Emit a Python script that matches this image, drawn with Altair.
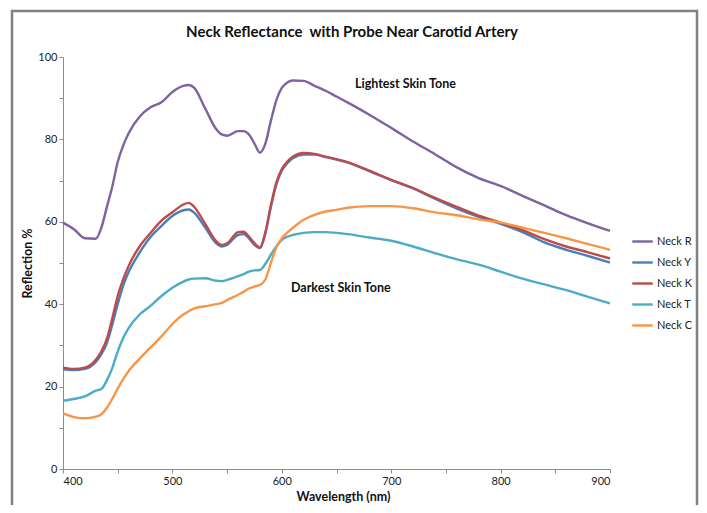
import altair as alt
import pandas as pd

wavelength = [400, 410, 420, 430, 435, 440, 445, 450, 455, 460, 470, 480, 490, 500,
              510, 515, 520, 530, 540, 545, 550, 560, 565, 570, 575, 580, 585, 590,
              595, 600, 605, 610, 620, 630, 640, 650, 660, 680, 700, 720, 740, 760,
              780, 800, 820, 840, 860, 880, 900]

neck_r = [59.8, 58.2, 56.0, 55.9, 58.5, 63.5, 68.5, 74.5, 78.5, 81.5, 85.5, 87.8, 89.0, 91.5,
          93.0, 93.2, 92.5, 87.5, 82.5, 81.2, 80.9, 82.0, 82.0, 81.2, 79.0, 76.8, 79.0, 84.5,
          89.5, 92.5, 93.8, 94.3, 94.2, 93.0, 91.8, 90.4, 89.0, 86.0, 82.8, 79.5, 76.4, 73.2,
          70.6, 68.7, 66.3, 64.0, 61.6, 59.6, 57.8]

neck_y = [24.2, 24.0, 24.3, 26.0, 27.8, 30.5, 35.0, 40.0, 44.5, 47.8, 52.5, 56.3, 59.0, 61.4,
          62.8, 63.0, 62.2, 58.6, 54.8, 54.0, 54.4, 56.8, 57.0, 56.0, 54.4, 53.6, 57.2, 63.6,
          69.0, 72.4, 74.2, 75.4, 76.3, 76.3, 75.7, 75.1, 74.4, 72.3, 70.1, 68.1, 65.6, 63.2,
          61.2, 59.5, 57.5, 55.0, 53.2, 51.7, 50.1]

neck_k = [24.6, 24.3, 24.6, 26.5, 28.5, 31.5, 36.5, 42.0, 46.0, 49.3, 54.0, 57.3, 60.3, 62.3,
          64.2, 64.6, 63.6, 59.5, 55.3, 54.4, 54.8, 57.5, 57.6, 56.4, 54.8, 53.8, 57.5, 64.0,
          69.5, 72.8, 74.6, 75.8, 76.7, 76.5, 75.8, 75.2, 74.5, 72.4, 70.2, 68.2, 65.8, 63.6,
          61.5, 59.8, 58.0, 55.8, 54.0, 52.6, 51.1]

neck_t = [16.6, 17.0, 17.6, 19.0, 19.4, 21.5, 24.5, 28.5, 31.8, 34.2, 37.5, 39.6, 42.0, 44.0,
          45.5, 46.0, 46.2, 46.3, 45.7, 45.6, 45.9, 46.8, 47.3, 47.9, 48.2, 48.3, 49.8, 52.0,
          54.0, 55.6, 56.4, 56.8, 57.3, 57.5, 57.5, 57.3, 57.0, 56.2, 55.4, 54.0, 52.4, 50.9,
          49.6, 47.9, 46.2, 44.8, 43.4, 41.8, 40.2]

neck_c = [13.5, 12.6, 12.3, 12.7, 13.3, 14.8, 17.0, 19.5, 21.8, 23.8, 26.8, 29.5, 32.2, 35.2,
          37.5, 38.3, 39.0, 39.5, 40.0, 40.3, 41.0, 42.3, 43.0, 43.8, 44.3, 44.7, 46.0, 50.0,
          53.8, 56.0, 57.4, 58.5, 60.5, 61.7, 62.5, 62.9, 63.4, 63.8, 63.8, 63.3, 62.3, 61.6,
          60.6, 59.8, 58.6, 57.3, 56.0, 54.6, 53.2]

series_names = ["Neck R", "Neck Y", "Neck K", "Neck T", "Neck C"]
series_colors = ["#7E62A1", "#4A7EBB", "#BE4B48", "#4BACC6", "#F79646"]

chart_title = ["Neck Reflectance \u00a0with Probe Near Carotid Artery"]
annot_text = ["Lightest Skin Tone", "Darkest Skin Tone"]
annot_x = [713, 654]
annot_y = [93.5, 44.0]

rows = []
for name, vals in zip(series_names, [neck_r, neck_y, neck_k, neck_t, neck_c]):
    for w, v in zip(wavelength, vals):
        rows.append({"Wavelength": w, "Reflection": v, "Series": name})
df = pd.DataFrame(rows)

FONT = "Lato"
AXIS_GRAY = "#8C8C8C"

x_enc = alt.X("Wavelength:Q",
              scale=alt.Scale(domain=[400, 900], nice=False),
              axis=alt.Axis(values=list(range(400, 901, 50)),
                            labelExpr="datum.value % 100 == 0 ? datum.label : ''",
                            title="Wavelength (nm)", grid=False, titleX=280, titleY=21))
y_enc = alt.Y("Reflection:Q",
              scale=alt.Scale(domain=[0, 100], nice=False),
              axis=alt.Axis(values=list(range(0, 101, 10)),
                            labelExpr="datum.value % 20 == 0 ? datum.label : ''",
                            title="Reflection %", grid=False, titlePadding=3))

lines = alt.Chart(df).mark_line(strokeWidth=2.4, interpolate="monotone").encode(
    x=x_enc,
    y=y_enc,
    color=alt.Color("Series:N",
                    scale=alt.Scale(domain=series_names, range=series_colors),
                    legend=alt.Legend(title=None, orient="none", legendX=568, legendY=173,
                                      symbolType="stroke", symbolSize=420,
                                      symbolStrokeWidth=2.4, rowPadding=4,
                                      labelFontSize=11, labelFont=FONT,
                                      labelColor="#222222", labelOffset=3)),
    detail="Series:N",
)

annot_df = pd.DataFrame({"text": annot_text, "x": annot_x, "y": annot_y})
annots = alt.Chart(annot_df).mark_text(font=FONT, fontWeight="bold", fontSize=12.5,
                                       color="#111111", align="center").encode(
    x="x:Q", y="y:Q", text="text:N")

title_mark = alt.Chart(pd.DataFrame({"t": chart_title})).mark_text(
    font=FONT, fontWeight="bold", fontSize=15, color="#111111",
    align="center", baseline="alphabetic").encode(
    x=alt.value(289), y=alt.value(-20), text="t:N")

frame = alt.Chart(pd.DataFrame({"a": [0]})).mark_rect(
    fillOpacity=0, stroke="#808080", strokeWidth=2.5).encode(
    x=alt.value(-51), x2=alt.value(634), y=alt.value(-46), y2=alt.value(480))

chart = alt.layer(frame, lines, annots, title_mark).properties(
    width=547, height=412,
    autosize=alt.AutoSizeParams(type="none"),
    padding={"left": 55, "top": 49, "right": 89, "bottom": 36},
).configure_view(stroke=None).configure_axis(
    domainColor=AXIS_GRAY, tickColor=AXIS_GRAY, tickSize=4,
    labelFont=FONT, labelFontSize=11, labelColor="#222222",
    titleFont=FONT, titleFontSize=12.5, titleFontWeight="bold", titleColor="#111111",
)

chart.save("out.html", embed_options={"renderer": "svg", "actions": False})
